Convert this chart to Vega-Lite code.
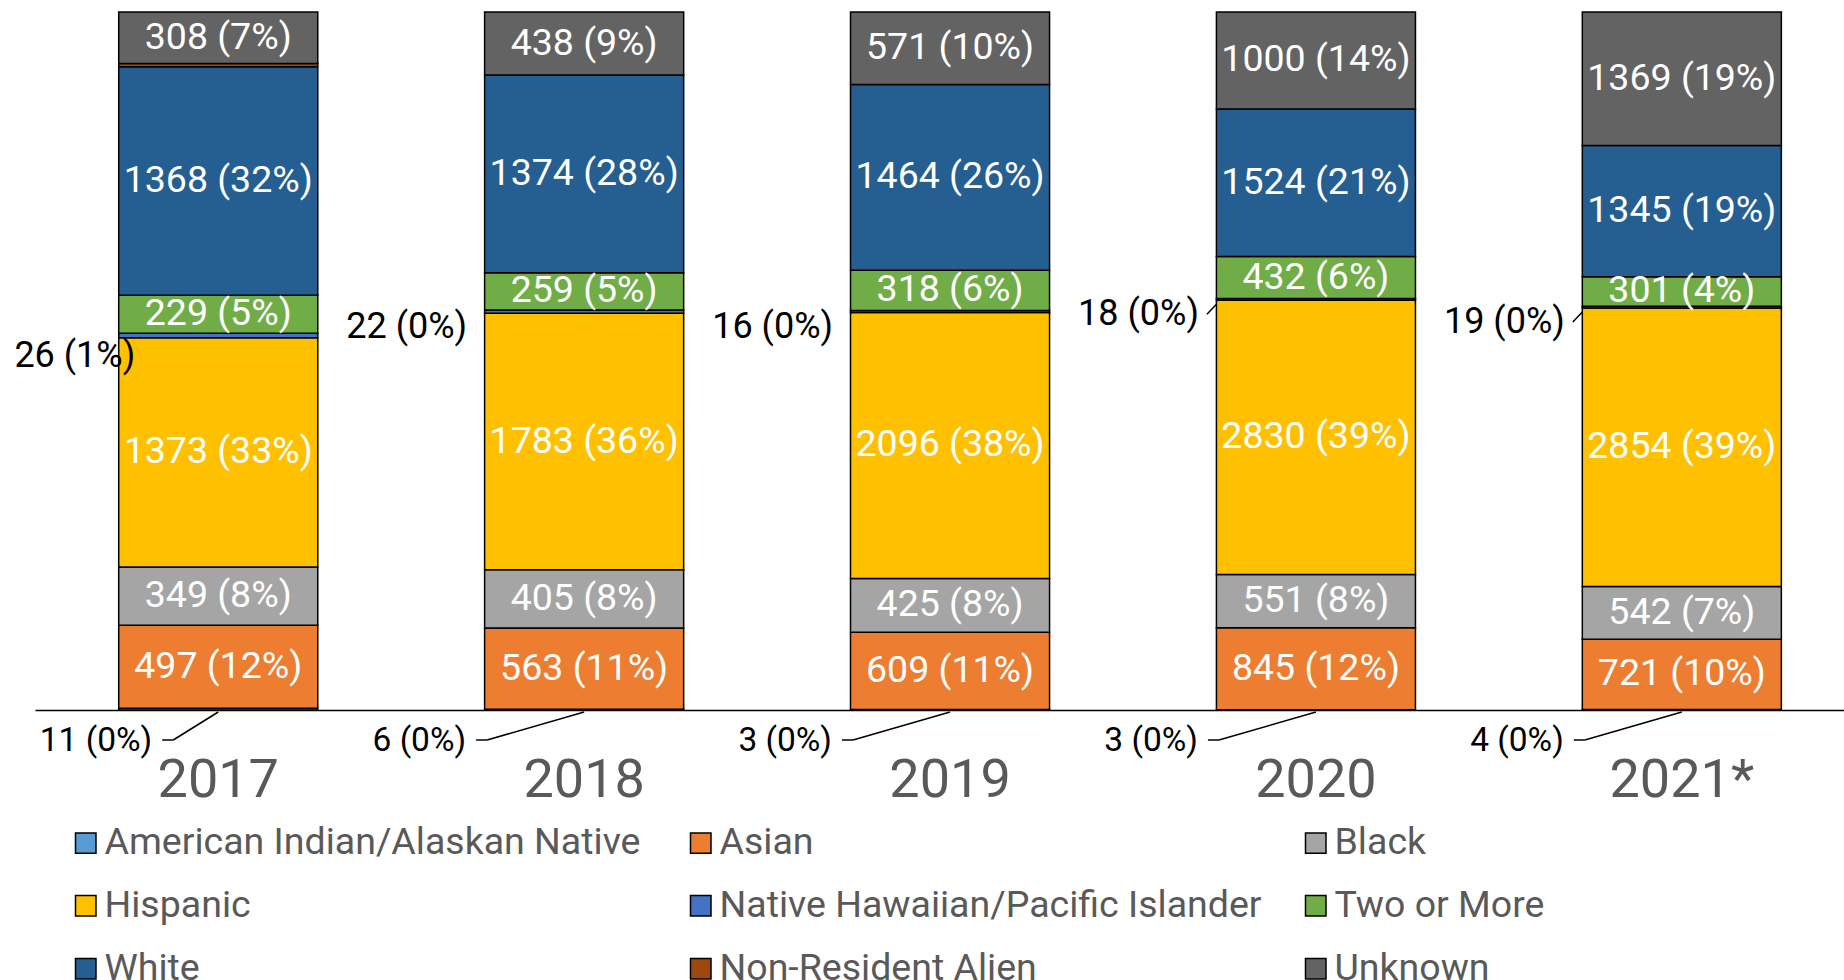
{
  "$schema": "https://vega.github.io/schema/vega-lite/v6.json",
  "autosize": "none",
  "width": 1809,
  "height": 698,
  "padding": {"left": 35, "top": 12, "right": 0, "bottom": 270},
  "config": {"view": {"stroke": null}, "font": "Roboto"},
  "data": {
    "values": [
      {"year": "2017", "race": "American Indian/Alaskan Native", "order": 1, "count": 11, "label": "11 (0%)"},
      {"year": "2017", "race": "Asian", "order": 2, "count": 497, "label": "497 (12%)"},
      {"year": "2017", "race": "Black", "order": 3, "count": 349, "label": "349 (8%)"},
      {"year": "2017", "race": "Hispanic", "order": 4, "count": 1373, "label": "1373 (33%)"},
      {"year": "2017", "race": "Native Hawaiian/Pacific Islander", "order": 5, "count": 26, "label": "26 (1%)"},
      {"year": "2017", "race": "Two or More", "order": 6, "count": 229, "label": "229 (5%)"},
      {"year": "2017", "race": "White", "order": 7, "count": 1368, "label": "1368 (32%)"},
      {"year": "2017", "race": "Non-Resident Alien", "order": 8, "count": 20, "label": ""},
      {"year": "2017", "race": "Unknown", "order": 9, "count": 308, "label": "308 (7%)"},
      {"year": "2018", "race": "American Indian/Alaskan Native", "order": 1, "count": 6, "label": "6 (0%)"},
      {"year": "2018", "race": "Asian", "order": 2, "count": 563, "label": "563 (11%)"},
      {"year": "2018", "race": "Black", "order": 3, "count": 405, "label": "405 (8%)"},
      {"year": "2018", "race": "Hispanic", "order": 4, "count": 1783, "label": "1783 (36%)"},
      {"year": "2018", "race": "Native Hawaiian/Pacific Islander", "order": 5, "count": 22, "label": "22 (0%)"},
      {"year": "2018", "race": "Two or More", "order": 6, "count": 259, "label": "259 (5%)"},
      {"year": "2018", "race": "White", "order": 7, "count": 1374, "label": "1374 (28%)"},
      {"year": "2018", "race": "Unknown", "order": 9, "count": 438, "label": "438 (9%)"},
      {"year": "2019", "race": "American Indian/Alaskan Native", "order": 1, "count": 3, "label": "3 (0%)"},
      {"year": "2019", "race": "Asian", "order": 2, "count": 609, "label": "609 (11%)"},
      {"year": "2019", "race": "Black", "order": 3, "count": 425, "label": "425 (8%)"},
      {"year": "2019", "race": "Hispanic", "order": 4, "count": 2096, "label": "2096 (38%)"},
      {"year": "2019", "race": "Native Hawaiian/Pacific Islander", "order": 5, "count": 16, "label": "16 (0%)"},
      {"year": "2019", "race": "Two or More", "order": 6, "count": 318, "label": "318 (6%)"},
      {"year": "2019", "race": "White", "order": 7, "count": 1464, "label": "1464 (26%)"},
      {"year": "2019", "race": "Unknown", "order": 9, "count": 571, "label": "571 (10%)"},
      {"year": "2020", "race": "American Indian/Alaskan Native", "order": 1, "count": 3, "label": "3 (0%)"},
      {"year": "2020", "race": "Asian", "order": 2, "count": 845, "label": "845 (12%)"},
      {"year": "2020", "race": "Black", "order": 3, "count": 551, "label": "551 (8%)"},
      {"year": "2020", "race": "Hispanic", "order": 4, "count": 2830, "label": "2830 (39%)"},
      {"year": "2020", "race": "Native Hawaiian/Pacific Islander", "order": 5, "count": 18, "label": "18 (0%)"},
      {"year": "2020", "race": "Two or More", "order": 6, "count": 432, "label": "432 (6%)"},
      {"year": "2020", "race": "White", "order": 7, "count": 1524, "label": "1524 (21%)"},
      {"year": "2020", "race": "Unknown", "order": 9, "count": 1000, "label": "1000 (14%)"},
      {"year": "2021*", "race": "American Indian/Alaskan Native", "order": 1, "count": 4, "label": "4 (0%)"},
      {"year": "2021*", "race": "Asian", "order": 2, "count": 721, "label": "721 (10%)"},
      {"year": "2021*", "race": "Black", "order": 3, "count": 542, "label": "542 (7%)"},
      {"year": "2021*", "race": "Hispanic", "order": 4, "count": 2854, "label": "2854 (39%)"},
      {"year": "2021*", "race": "Native Hawaiian/Pacific Islander", "order": 5, "count": 19, "label": "19 (0%)"},
      {"year": "2021*", "race": "Two or More", "order": 6, "count": 301, "label": "301 (4%)"},
      {"year": "2021*", "race": "White", "order": 7, "count": 1345, "label": "1345 (19%)"},
      {"year": "2021*", "race": "Unknown", "order": 9, "count": 1369, "label": "1369 (19%)"}
    ]
  },
  "transform": [
    {"stack": "count", "groupby": ["year"], "sort": [{"field": "order", "order": "ascending"}], "offset": "normalize", "as": ["y0", "y1"]},
    {"calculate": "(datum.y0 + datum.y1) / 2", "as": "mid"}
  ],
  "layer": [
    {
      "mark": {"type": "bar", "stroke": "black", "strokeWidth": 1.5},
      "encoding": {
        "x": {
          "field": "year", "type": "nominal", "sort": null,
          "scale": {"paddingInner": 0.456, "paddingOuter": 0.2, "align": 0.572},
          "axis": {"title": null, "ticks": false, "labelAngle": 0, "labelFont": "Roboto", "labelFontSize": 54, "labelColor": "#595959", "labelPadding": 43, "domainColor": "black", "domainWidth": 1.5}
        },
        "y": {"field": "y0", "type": "quantitative", "scale": {"domain": [0, 1], "nice": false}, "axis": null},
        "y2": {"field": "y1"},
        "color": {
          "field": "race", "type": "nominal",
          "scale": {
            "domain": ["American Indian/Alaskan Native", "Asian", "Black", "Hispanic", "Native Hawaiian/Pacific Islander", "Two or More", "White", "Non-Resident Alien", "Unknown"],
            "range": ["#5B9BD5", "#ED7D31", "#A5A5A5", "#FFC000", "#4472C4", "#70AD47", "#255E91", "#9E480E", "#636363"]
          },
          "legend": {
            "title": null, "orient": "none", "legendX": 32, "legendY": 812, "columns": 3, "direction": "horizontal",
            "symbolType": "square", "symbolSize": 420, "symbolStrokeColor": "black", "symbolStrokeWidth": 1.5,
            "labelFont": "Roboto", "labelFontSize": 37.5, "labelColor": "#595959", "labelOffset": 0, "labelLimit": 900,
            "rowPadding": 24, "columnPadding": 35, "gridAlign": "all", "padding": 0
          }
        }
      }
    },
    {
      "transform": [{"filter": "indexof(['Asian','Black','Hispanic','Two or More','White','Unknown'], datum.race) >= 0"}],
      "mark": {"type": "text", "font": "Roboto", "fontSize": 37.5, "color": "white", "align": "center", "baseline": "middle"},
      "encoding": {
        "x": {"field": "year", "type": "nominal", "sort": null},
        "y": {"field": "mid", "type": "quantitative"},
        "text": {"field": "label"}
      }
    },
    {
      "transform": [{"filter": "datum.race == 'American Indian/Alaskan Native' && datum.year == '2017'"}],
      "mark": {"type": "text", "font": "Roboto", "fontSize": 33.5, "color": "black", "align": "right", "baseline": "middle", "dx": -66, "dy": 31},
      "encoding": {"x": {"field": "year", "type": "nominal", "sort": null}, "y": {"field": "y0", "type": "quantitative"}, "text": {"field": "label"}}
    },
    {
      "transform": [{"filter": "datum.race == 'American Indian/Alaskan Native' && datum.year != '2017'"}],
      "mark": {"type": "text", "font": "Roboto", "fontSize": 33.5, "color": "black", "align": "right", "baseline": "middle", "dx": -118, "dy": 31},
      "encoding": {"x": {"field": "year", "type": "nominal", "sort": null}, "y": {"field": "y0", "type": "quantitative"}, "text": {"field": "label"}}
    },
    {
      "transform": [{"filter": "datum.race == 'American Indian/Alaskan Native' && datum.year == '2017'"}],
      "mark": {"type": "rule", "color": "black", "strokeWidth": 1.5, "yOffset": 2, "x2Offset": -45, "y2Offset": 30},
      "encoding": {"x": {"field": "year", "type": "nominal", "sort": null}, "x2": {"field": "year"}, "y": {"field": "y0", "type": "quantitative"}, "y2": {"field": "y0"}}
    },
    {
      "transform": [{"filter": "datum.race == 'American Indian/Alaskan Native' && datum.year == '2017'"}],
      "mark": {"type": "rule", "color": "black", "strokeWidth": 1.5, "xOffset": -45, "x2Offset": -56, "yOffset": 30, "y2Offset": 30},
      "encoding": {"x": {"field": "year", "type": "nominal", "sort": null}, "x2": {"field": "year"}, "y": {"field": "y0", "type": "quantitative"}, "y2": {"field": "y0"}}
    },
    {
      "transform": [{"filter": "datum.race == 'American Indian/Alaskan Native' && datum.year != '2017'"}],
      "mark": {"type": "rule", "color": "black", "strokeWidth": 1.5, "yOffset": 2, "x2Offset": -97, "y2Offset": 30},
      "encoding": {"x": {"field": "year", "type": "nominal", "sort": null}, "x2": {"field": "year"}, "y": {"field": "y0", "type": "quantitative"}, "y2": {"field": "y0"}}
    },
    {
      "transform": [{"filter": "datum.race == 'American Indian/Alaskan Native' && datum.year != '2017'"}],
      "mark": {"type": "rule", "color": "black", "strokeWidth": 1.5, "xOffset": -97, "x2Offset": -108, "yOffset": 30, "y2Offset": 30},
      "encoding": {"x": {"field": "year", "type": "nominal", "sort": null}, "x2": {"field": "year"}, "y": {"field": "y0", "type": "quantitative"}, "y2": {"field": "y0"}}
    },
    {
      "transform": [{"filter": "datum.race == 'Native Hawaiian/Pacific Islander' && datum.year == '2017'"}],
      "mark": {"type": "text", "font": "Roboto", "fontSize": 36, "color": "black", "align": "right", "baseline": "middle", "dx": -83, "dy": 20},
      "encoding": {"x": {"field": "year", "type": "nominal", "sort": null}, "y": {"field": "mid", "type": "quantitative"}, "text": {"field": "label"}}
    },
    {
      "transform": [{"filter": "datum.race == 'Native Hawaiian/Pacific Islander' && datum.year != '2017'"}],
      "mark": {"type": "text", "font": "Roboto", "fontSize": 36, "color": "black", "align": "right", "baseline": "middle", "dx": -117, "dy": 15},
      "encoding": {"x": {"field": "year", "type": "nominal", "sort": null}, "y": {"field": "mid", "type": "quantitative"}, "text": {"field": "label"}}
    },
    {
      "transform": [{"filter": "datum.race == 'Native Hawaiian/Pacific Islander' && (datum.year == '2020' || datum.year == '2021*')"}],
      "mark": {"type": "rule", "color": "black", "strokeWidth": 1.5, "xOffset": -109, "yOffset": 15, "x2Offset": -99.5, "y2Offset": 5},
      "encoding": {"x": {"field": "year", "type": "nominal", "sort": null}, "x2": {"field": "year"}, "y": {"field": "mid", "type": "quantitative"}, "y2": {"field": "mid"}}
    }
  ]
}
